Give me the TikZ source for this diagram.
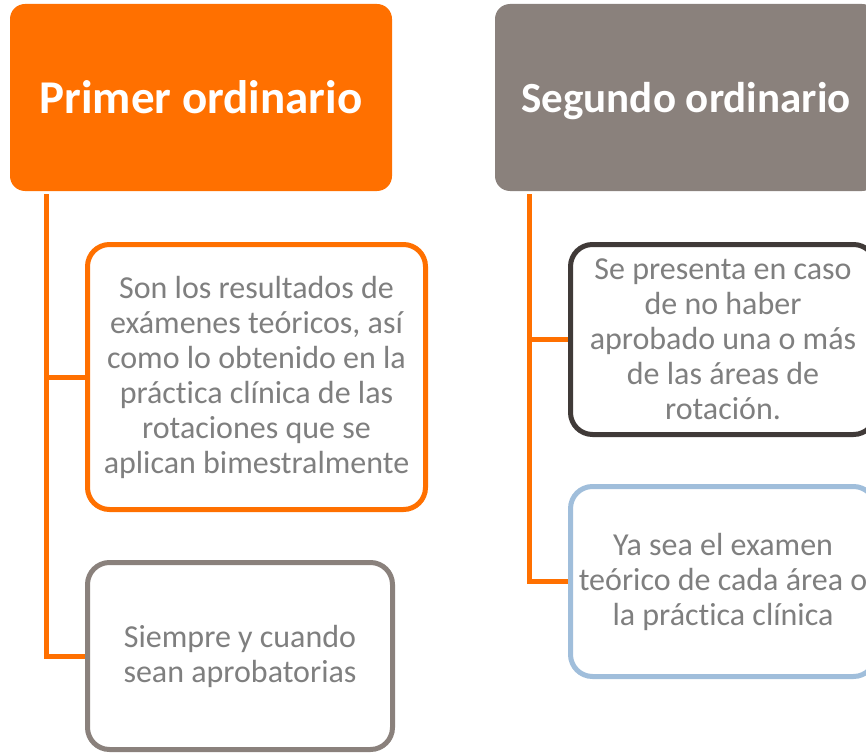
\documentclass[tikz,border=0pt]{standalone}
\usepackage{fontspec}
\setmainfont{Carlito}[Ligatures=NoCommon]
\usepackage{tikz}
\usetikzlibrary{arrows.meta, positioning, calc}

\definecolor{ordorange}{HTML}{FF7000}
\definecolor{ordgray}{HTML}{8A817C}
\definecolor{ordtext}{HTML}{7F7F7F}
\definecolor{orddark}{HTML}{403A38}
\definecolor{ordblue}{HTML}{A0BEDB}

\begin{document}
\begin{tikzpicture}[
        x=1pt, y=-1pt,
        header/.style={rounded corners=15pt, minimum width=382pt, minimum height=187pt, align=center, text=white, font=\fontsize{47}{55}\selectfont\bfseries, text depth=0pt},
        box/.style={draw, line width=5pt, fill=white, rounded corners=22pt, align=center, text=ordtext, font=\fontsize{32}{35}\selectfont},
        conn/.style={draw=ordorange, line width=5pt}
    ]
    \useasboundingbox (0,0) rectangle (866,754);
    % Nodes
    \node[header, fill=ordorange] (first) at (201,97.5) {Primer ordinario};
    \node[header, fill=ordgray, font=\fontsize{43}{50}\selectfont\bfseries] (second) at (686,97.5) {Segundo ordinario};
    \node[box, draw=ordorange, minimum width=338pt, minimum height=265pt] (results) at (256.5,377) {Son los resultados de\\ exámenes teóricos, así\\ como lo obtenido en la\\ práctica clínica de las\\ rotaciones que se\\ aplican bimestralmente};
    \node[box, draw=ordgray, minimum width=305pt, minimum height=187pt] (passing) at (240,656) {Siempre y cuando\\ sean aprobatorias};
    \node[box, draw=orddark, minimum width=305pt, minimum height=190pt] (failed) at (723,339.5) {Se presenta en caso\\ de no haber\\ aprobado una o más\\ de las áreas de\\ rotación.};
    \node[box, draw=ordblue, minimum width=305pt, minimum height=190pt] (either) at (723,581.5) {Ya sea el examen\\ teórico de cada área o\\ la práctica clínica};

    % Lines
    \coordinate (trunkA) at ([xshift=37pt,yshift=-3pt]first.south west);
    \coordinate (trunkB) at ([xshift=35pt,yshift=-3pt]second.south west);
    \draw[conn] (trunkA) |- (results.west);
    \draw[conn] (trunkA) |- (passing.west);
    \draw[conn] (trunkB) |- (failed.west);
    \draw[conn] (trunkB) |- (either.west);

\end{tikzpicture}
\end{document}
